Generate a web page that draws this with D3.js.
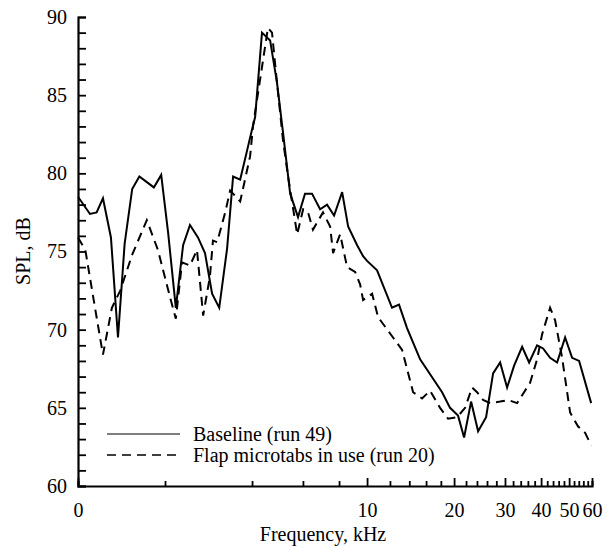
<!DOCTYPE html>
<html><head><meta charset="utf-8">
<script src="https://cdn.jsdelivr.net/npm/d3@7"></script>
<style>body{margin:0;background:#fff} svg, svg text{font-family:"Liberation Serif", "Times New Roman", Times, serif !important;}</style>
</head><body>
<script>
// Data (frequency in kHz, SPL in dB)
const baselineFreq = [1.00,1.10,1.16,1.22,1.30,1.375,1.45,1.54,1.63,1.83,1.94,2.05,2.18,2.31,2.44,2.60,2.75,2.91,3.08,3.28,3.44,3.64,3.85,3.94,4.10,4.33,4.62,4.88,5.12,5.42,5.77,6.10,6.45,6.88,7.27,7.69,8.20,8.60,9.24,9.69,10.0,10.83,12.20,12.90,13.75,15.26,18.18,19.37,20.64,21.66,22.90,24.22,25.81,27.29,28.86,30.51,32.26,34.39,36.36,38.74,40.64,42.97,45.44,48.43,51.21,54.15,59.6];
const baselineSPL  = [78.5,77.4,77.5,78.4,75.9,69.5,75.5,79.0,79.8,79.1,79.9,76.2,71.4,75.4,76.7,75.9,74.9,72.3,71.4,75.2,79.8,79.6,81.5,82.3,83.6,89.0,88.5,85.8,82.6,78.7,77.2,78.7,78.7,77.7,78.0,77.3,78.8,76.6,75.4,74.7,74.4,73.8,71.4,71.6,70.1,68.1,66.0,65.0,64.5,63.1,65.4,63.5,64.4,67.2,67.9,66.3,67.7,68.9,67.9,69.0,68.8,68.2,67.9,69.5,68.2,68.0,65.3];

const flapFreq = [1.00,1.06,1.145,1.22,1.31,1.40,1.54,1.73,1.89,2.08,2.18,2.29,2.44,2.58,2.71,2.86,2.93,3.03,3.23,3.36,3.64,3.94,4.03,4.54,4.69,4.88,5.12,5.33,5.73,6.01,6.25,6.50,7.04,7.45,7.63,8.07,8.53,9.09,9.46,9.69,10.41,10.92,12.30,13.22,14.43,15.50,16.52,17.89,19.07,20.48,21.83,23.08,24.02,25.2,26.65,28.86,30.75,33.04,36.64,38.74,40.32,42.97,44.72,47.29,50.40,53.72,56.80,59.6];
const flapSPL  = [75.9,75.1,71.4,68.4,71.4,72.5,74.8,77.0,75.1,72.1,70.7,74.3,74.1,75.1,70.9,73.4,75.7,75.6,77.5,78.9,78.2,81.1,83.0,89.3,89.0,85.8,82.1,79.8,76.1,77.7,77.5,76.4,77.5,76.6,74.9,76.1,74.0,73.7,72.9,71.9,72.3,70.8,69.5,68.7,66.0,65.6,66.1,65.0,64.3,64.4,65.0,66.3,66.0,65.5,65.3,65.4,65.5,65.3,66.6,68.1,69.7,71.4,70.6,68.2,64.7,63.8,63.4,62.6];

const xMajorTicks = [1,10,20,30,40,50,60];
const xMajorLabels = ["0","10","20","30","40","50","60"];
const xMinorTicks = [2,4,6,8,12,14,16,18,22,24,26,28,32,34,36,38,42,44,46,48,52,54,56,58];
const yTicks = [60,65,70,75,80,85,90];
const yMinorTicks = d3.range(60,91,1);
const seriesNames = ["Baseline (run 49)","Flap microtabs in use (run 20)"];

const W = 607, H = 548;
const FONT = '"Liberation Serif", "Times New Roman", Times, serif';
const svg = d3.select("body").append("svg").attr("width",W).attr("height",H)
  .attr("font-family",FONT);

const x = d3.scaleLog().domain([1,60]).range([78,592]);
const y = d3.scaleLinear().domain([60,90]).range([486,17]);

// y axis
const yAxis = svg.append("g").attr("transform",`translate(${x(1)},0)`);
yAxis.call(d3.axisLeft(y).tickValues(yMinorTicks).tickSize(-8).tickFormat(""));
yAxis.append("g").call(d3.axisLeft(y).tickValues(yTicks).tickSize(0).tickPadding(11).tickFormat(d3.format("d")));
yAxis.selectAll(".domain").attr("stroke","#000").attr("stroke-width",2.2);
yAxis.selectAll(".tick line").attr("stroke","#000").attr("stroke-width",1.8);
yAxis.selectAll("g g .domain").remove();

// x axis
const xAxis = svg.append("g").attr("transform",`translate(0,${y(60)})`);
xAxis.call(d3.axisBottom(x).tickValues(xMinorTicks).tickSize(-5).tickFormat(""));
const xMaj = xAxis.append("g");
xMaj.call(d3.axisBottom(x).tickValues(xMajorTicks).tickSize(-8).tickPadding(17).tickFormat((d,i)=>xMajorLabels[i]));
xMaj.select(".domain").remove();
xAxis.selectAll(".domain").attr("stroke","#000").attr("stroke-width",2.2);
xAxis.selectAll(".tick line").attr("stroke","#000").attr("stroke-width",1.8);

svg.selectAll("g").attr("font-family",FONT);
svg.selectAll(".tick text").attr("font-size",20).attr("fill","#000").attr("font-family",FONT);

// axis titles
svg.append("text").attr("x",323).attr("y",541).attr("text-anchor","middle")
  .attr("font-size",20).attr("font-family",FONT).text("Frequency, kHz");
svg.append("text").attr("transform","translate(30,251) rotate(-90)").attr("text-anchor","middle")
  .attr("font-size",20).attr("font-family",FONT).text("SPL, dB");

// lines
const line = d3.line().x(d=>x(d[0])).y(d=>y(d[1]));
const baseData = baselineFreq.map((f,i)=>[f,baselineSPL[i]]);
const flapData = flapFreq.map((f,i)=>[f,flapSPL[i]]);
svg.append("path").datum(flapData).attr("d",line).attr("fill","none")
  .attr("stroke","#000").attr("stroke-width",2).attr("stroke-dasharray","9,6");
svg.append("path").datum(baseData).attr("d",line).attr("fill","none")
  .attr("stroke","#000").attr("stroke-width",2);

// legend
const leg = svg.append("g");
leg.append("line").attr("x1",107).attr("x2",180).attr("y1",434).attr("y2",434)
  .attr("stroke","#000").attr("stroke-width",1.2);
leg.append("text").attr("x",193).attr("y",441).attr("font-size",20).attr("font-family",FONT).text(seriesNames[0]);
leg.append("line").attr("x1",107).attr("x2",180).attr("y1",455).attr("y2",455)
  .attr("stroke","#000").attr("stroke-width",1.5).attr("stroke-dasharray","9,6");
leg.append("text").attr("x",193).attr("y",462).attr("font-size",20).attr("font-family",FONT).text(seriesNames[1]);
</script>
</body></html>
